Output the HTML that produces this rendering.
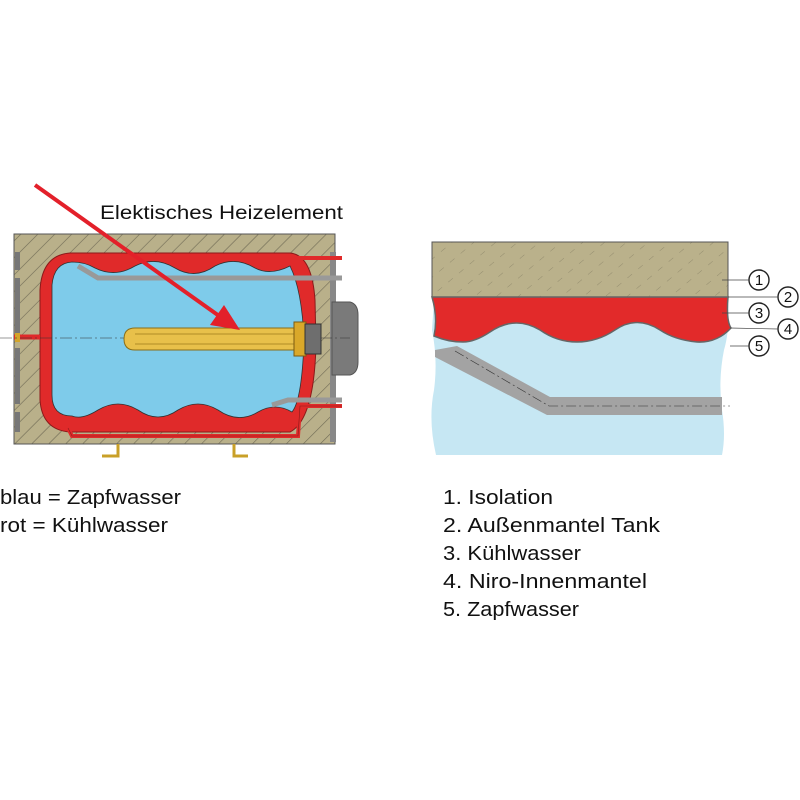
<!DOCTYPE html>
<html><head><meta charset="utf-8"><style>html,body{margin:0;padding:0;background:#fff}svg{display:block}</style></head><body>
<svg width="800" height="800" viewBox="0 0 800 800" xmlns="http://www.w3.org/2000/svg" font-family="Liberation Sans, sans-serif">
<defs>
<pattern id="h" patternUnits="userSpaceOnUse" width="12" height="12" patternTransform="rotate(45)">
<rect width="12" height="12" fill="#b9b08a"/><line x1="0" y1="0" x2="0" y2="12" stroke="#6f6a55" stroke-width="1.2"/>
</pattern>
<pattern id="h2" patternUnits="userSpaceOnUse" width="14" height="14" patternTransform="rotate(50)">
<rect width="14" height="14" fill="#bab18b"/><line x1="0" y1="0" x2="0" y2="6" stroke="#8a8468" stroke-width="0.8"/>
</pattern>
</defs>
<!-- left diagram -->
<rect x="14" y="234" width="321" height="210" fill="url(#h)" stroke="#555" stroke-width="1"/>
<rect x="15" y="252" width="5" height="18" fill="#777"/><rect x="15" y="278" width="5" height="60" fill="#777"/><rect x="15" y="348" width="5" height="56" fill="#777"/><rect x="15" y="412" width="5" height="20" fill="#777"/>
<rect x="330" y="252" width="6" height="190" fill="#888"/>
<path d="M332 302 L350 302 Q358 304 358 315 L358 362 Q358 373 350 375 L332 375Z" fill="#7a7a7a" stroke="#555"/>
<path d="M70 253 L290 253 Q312 255 315 300 L316 345 Q314 420 290 432 L70 432 Q42 430 40 400 L40 290 Q42 255 70 253Z" fill="#e02a2a" stroke="#8a1a1a" stroke-width="1"/>
<path d="M72 262 Q85 262 95 268 Q115 278 135 266 Q155 256 175 268 Q195 280 215 266 Q235 256 255 268 Q270 276 290 266 Q302 290 304 340 Q302 400 292 412 Q275 402 258 412 Q238 424 218 410 Q198 398 178 410 Q158 424 138 410 Q118 398 98 410 Q82 420 72 416 Q52 416 52 395 L52 285 Q54 263 72 262Z" fill="#7ecbea" stroke="#333" stroke-width="0.8"/>
<path d="M68 428 L72 436 L298 436 L300 406 L342 406" fill="none" stroke="#e02a2a" stroke-width="4"/>
<path d="M68 428 L72 436 L298 436 L300 406 L342 406" fill="none" stroke="#8a1a1a" stroke-width="0.6"/>
<path d="M290 258 L300 258 L342 258" fill="none" stroke="#e02a2a" stroke-width="4"/>
<path d="M78 266 L98 278 L342 278" fill="none" stroke="#999" stroke-width="5"/>
<path d="M272 405 L288 400 L342 400" fill="none" stroke="#999" stroke-width="5"/>
<line x1="14" y1="337" x2="40" y2="337" stroke="#e02a2a" stroke-width="5"/>
<rect x="15" y="333" width="5" height="9" fill="#d4a52a"/>
<line x1="0" y1="338" x2="350" y2="338" stroke="#333" stroke-width="0.5" stroke-dasharray="12 3 2 3"/>
<path d="M135 328 L296 328 L296 350 L135 350 Q124 350 124 339 Q124 328 135 328Z" fill="#e8c04a" stroke="#8a6e18"/>
<line x1="135" y1="334" x2="296" y2="334" stroke="#b08d25"/><line x1="135" y1="344" x2="296" y2="344" stroke="#b08d25"/>
<rect x="294" y="322" width="12" height="34" fill="#d9a82a" stroke="#7a5a10"/>
<rect x="305" y="324" width="16" height="30" fill="#6e6e6e" stroke="#333"/>
<path d="M118 444 L118 456 L102 456 M234 444 L234 456 L248 456" fill="none" stroke="#c9a028" stroke-width="3"/>
<line x1="35" y1="185" x2="222" y2="318" stroke="#e3202a" stroke-width="4"/>
<polygon points="240,330 210,325 224,305" fill="#e3202a"/>
<text x="100" y="219" font-size="19" textLength="243" lengthAdjust="spacingAndGlyphs" fill="#111">Elektisches Heizelement</text>
<text x="0" y="504" font-size="20" textLength="181" lengthAdjust="spacingAndGlyphs" fill="#111">blau = Zapfwasser</text>
<text x="0" y="532" font-size="20" textLength="168" lengthAdjust="spacingAndGlyphs" fill="#111">rot = Kühlwasser</text>
<!-- right diagram -->
<path d="M434 300 L728 300 Q730 330 724 350 Q718 380 722 410 Q726 435 722 455 L436 455 Q428 420 434 390 Q438 360 432 330Z" fill="#c6e7f3"/>
<rect x="432" y="242" width="296" height="55" fill="url(#h2)" stroke="#555" stroke-width="1"/>
<path d="M432 297 L728 297 Q726 320 731 328 Q717 343 697 342 Q675 340 660 330 Q637 315 615 330 Q597 342 577 342 Q557 342 540 330 Q515 315 490 332 Q475 342 463 342 Q448 342 434 336 Q438 318 432 297Z" fill="#e22a2a" stroke="#666" stroke-width="1.5"/>
<path d="M435 350 L457 346 L550 397 L722 397 L722 415 L547 415 L435 357Z" fill="#a3a3a3"/>
<path d="M455 351 L549 406 L730 406" fill="none" stroke="#333" stroke-width="0.6" stroke-dasharray="10 3 2 3"/>
<g fill="none" stroke="#222" stroke-width="1.4">
<circle cx="759" cy="280" r="10"/><circle cx="788" cy="297" r="10"/><circle cx="759" cy="313" r="10"/><circle cx="788" cy="329" r="10"/><circle cx="759" cy="346" r="10"/>
</g>
<g stroke="#444" stroke-width="0.7">
<line x1="722" y1="280" x2="749" y2="280"/><line x1="728" y1="297" x2="778" y2="297"/><line x1="722" y1="313" x2="749" y2="313"/><line x1="730" y1="328" x2="778" y2="329"/><line x1="730" y1="346" x2="749" y2="346"/>
</g>
<g font-size="15" text-anchor="middle" fill="#111">
<text x="759" y="285">1</text><text x="788" y="302">2</text><text x="759" y="318">3</text><text x="788" y="334">4</text><text x="759" y="351">5</text>
</g>
<g font-size="20" fill="#111">
<text x="443" y="504" textLength="110" lengthAdjust="spacingAndGlyphs">1. Isolation</text>
<text x="443" y="532" textLength="217" lengthAdjust="spacingAndGlyphs">2. Außenmantel Tank</text>
<text x="443" y="560" textLength="138" lengthAdjust="spacingAndGlyphs">3. Kühlwasser</text>
<text x="443" y="588" textLength="204" lengthAdjust="spacingAndGlyphs">4. Niro-Innenmantel</text>
<text x="443" y="616" textLength="136" lengthAdjust="spacingAndGlyphs">5. Zapfwasser</text>
</g>
</svg>
</body></html>
